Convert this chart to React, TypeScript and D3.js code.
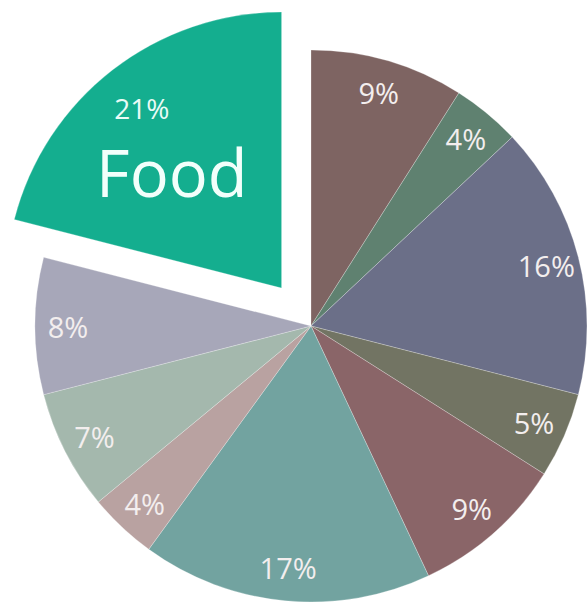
import React from "react";
import * as d3 from "d3";

const categories = ["A", "B", "C", "D", "E", "F", "G", "H", "I", "Food"];
const values = [9, 4, 16, 5, 9, 17, 4, 7, 8, 21];
const labels = ["9%", "4%", "16%", "5%", "9%", "17%", "4%", "7%", "8%", "21%"];
const colors = ["#7e6462", "#5f8170", "#6b6f88", "#727463", "#8a6568", "#72a3a0", "#b9a2a1", "#a4b8ad", "#a7a7b9", "#14ae8f"];
const explodedCategory = "Food";

const W = 587;
const H = 606;
const CX = 311;
const CY = 326;
const R = 276;
const LABEL_R = 243;
const EXPLODE = 48;

export default function App() {
  const pie = d3
    .pie<number>()
    .sort(null)
    .value((d) => d)
    .startAngle(0)
    .endAngle(2 * Math.PI);
  const arcs = pie(values);
  const arcGen = d3.arc<d3.PieArcDatum<number>>().innerRadius(0).outerRadius(R);
  const labelArc = d3.arc<d3.PieArcDatum<number>>().innerRadius(LABEL_R).outerRadius(LABEL_R);
  const foodLabelArc = d3.arc<d3.PieArcDatum<number>>().innerRadius(228).outerRadius(228);

  return (
    <div style={{ position: "absolute", left: 0, top: 0, width: W, height: H, background: "#fff" }}>
      <svg width={W} height={H} style={{ display: "block" }}>
        <g transform={`translate(${CX},${CY})`}>
          {arcs.map((a, i) => {
            const isExp = categories[i] === explodedCategory;
            const mid = (a.startAngle + a.endAngle) / 2;
            const dx = isExp ? EXPLODE * Math.sin(mid) : 0;
            const dy = isExp ? -EXPLODE * Math.cos(mid) : 0;
            return (
              <g key={i} transform={`translate(${dx},${dy})`}>
                <path d={arcGen(a) || ""} fill={colors[i]} stroke="rgba(255,255,255,0.25)" strokeWidth={1} />
              </g>
            );
          })}
          {arcs.map((a, i) => {
            const isExp = categories[i] === explodedCategory;
            const mid = (a.startAngle + a.endAngle) / 2;
            if (isExp) {
              const dx = EXPLODE * Math.sin(mid);
              const dy = -EXPLODE * Math.cos(mid);
              const [lx, ly] = foodLabelArc.centroid(a);
              return (
                <g key={"l" + i} transform={`translate(${dx},${dy})`}>
                  <text
                    x={lx}
                    y={ly}
                    textAnchor="middle"
                    dominantBaseline="central"
                    fill="#e9fbf6"
                    fontFamily="'Open Sans', sans-serif"
                    fontSize={28}
                  >
                    {labels[i]}
                  </text>
                  <text
                    x={lx + 30}
                    y={ly + 64}
                    textAnchor="middle"
                    dominantBaseline="central"
                    fill="#f2fffb"
                    fontFamily="'Open Sans', sans-serif"
                    fontSize={65}
                  >
                    {categories[i]}
                  </text>
                </g>
              );
            }
            const [lx, ly] = labelArc.centroid(a);
            return (
              <text
                key={"l" + i}
                x={lx}
                y={ly}
                textAnchor="middle"
                dominantBaseline="central"
                fill="#f3eeee"
                fontFamily="'Open Sans', sans-serif"
                fontSize={29}
              >
                {labels[i]}
              </text>
            );
          })}
        </g>
      </svg>
    </div>
  );
}
